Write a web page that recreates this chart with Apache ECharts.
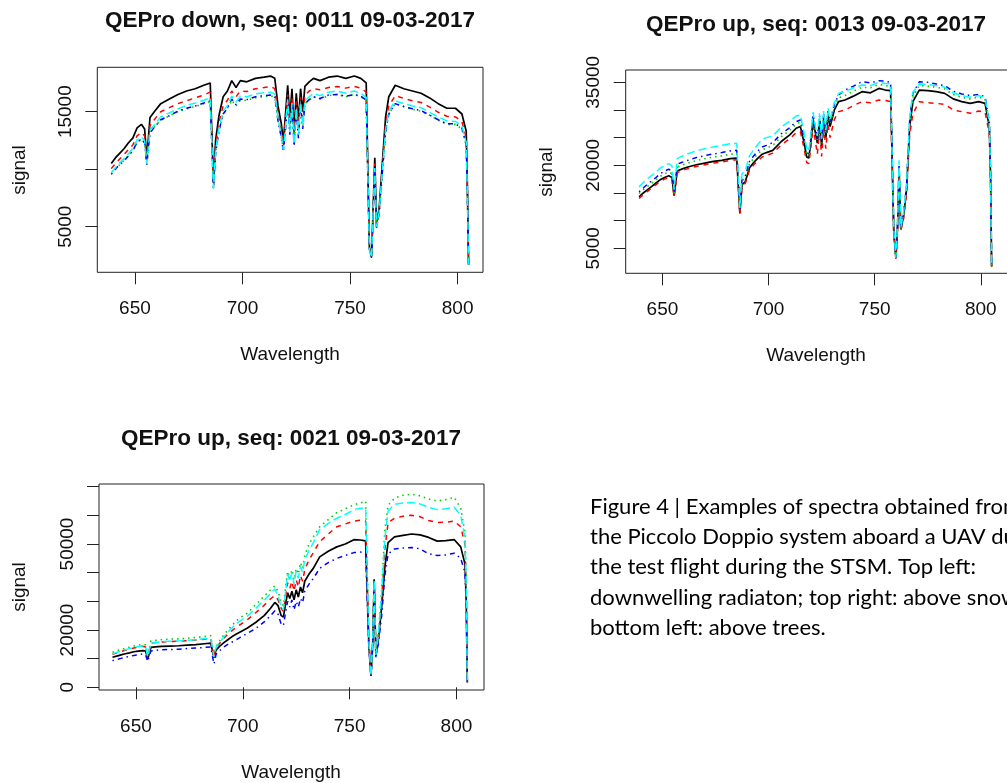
<!DOCTYPE html>
<html>
<head>
<meta charset="utf-8">
<script src="https://cdn.jsdelivr.net/npm/echarts@6/dist/echarts.min.js"></script>
<style>html,body{margin:0;padding:0;background:#fff;}#c{width:1007px;height:783px;}</style>
</head>
<body>
<div id="c"></div>
<script>
// ---- data ----
const wavelength = [639,641,643,645,647,649,651,653,654.5,655.5,657,659,662,666,670,674,678,682,685,686.5,687.5,689,691,693,695,697,699,702,706,710,713,715,716.5,718,719,720,721,722,723,724,725,726,727,728,729,731,733,736,740,744,748,752,755,757.5,759,760,760.8,761.5,762.3,763.5,765,766.5,768,771,775,779,783,787,791,795,799,802,804,804.6,805.1];

// Panel 1: QEPro down, seq 0011
const p1Black = [10500,11000,11400,11800,12300,12700,13600,13900,13500,10900, 14500,15000,15700,16100,16500,16800,17000,17300,17500,8900, 12500,14600,16300,16800,17700,17100,17700,17600,17900,18000, 18100,17900,15500,14000,12400,14800,17300,14500,17000,13300, 16600,14200,17000,15000,17200,17600,17900,17700,18000,18100, 17900,18100,17900,17500,3200,2400,7000,11000,5300,6500, 10500,14500,16300,17300,17000,16800,16600,16200,15700,15300, 15300,14800,13300,8000,1700];
const p1Red = [10050,10500,10900,11300,11700,12100,12900,13200,12900,10700, 13800,14300,15000,15350,15700,15950,16200,16450,16700,8700, 12000,14000,15500,16000,16800,16300,16800,16750,17000,17100, 17200,17000,14900,13500,12000,14200,16500,13900,16200,12800, 15900,13600,16300,14400,16400,16800,17000,16900,17100,17200, 17050,17200,17050,16700,3100,2350,6800,10500,5100,6300, 10100,13900,15500,16400,16150,15950,15800,15400,14950,14600, 14550,14150,12700,7700,1700];
const p1Green = [9600,10000,10400,10800,11200,11600,12300,12650,12300,10500, 13200,13700,14250,14650,15000,15250,15450,15700,15900,8400, 11500,13300,14800,15300,16000,15500,16000,16000,16200,16300, 16400,16250,14300,12900,11600,13600,15800,13300,15500,12200, 15200,13000,15500,13800,15700,16000,16300,16100,16400,16500, 16300,16500,16300,16000,3000,2300,6600,10000,4900,6100, 9700,13300,14800,15700,15450,15200,15050,14700,14250,13900, 13900,13500,12100,7400,1700];
const p1Blue = [9550,10050,10400,10750,11150,11600,12350,12600,12300,10400, 13150,13650,14300,14650,15050,15300,15500,15750,15950,8300, 11400,13300,14800,15300,16100,15600,16100,16050,16300,16400, 16450,16300,14200,12800,11500,13500,15800,13000,15500,12000, 15100,12700,15500,13500,15700,16050,16300,16150,16450,16500, 16350,16500,16350,16000,3000,2300,6600,9900,4900,6100, 9700,13200,14800,15700,15450,15250,15100,14700,14300,13950, 13950,13550,12150,7400,1700];
const p1Cyan = [9700,10150,10550,10950,11350,11800,12550,12800,12500,10500, 13400,13850,14550,14900,15250,15550,15750,16000,16200,8300, 11600,13500,15050,15550,16350,15850,16350,16300,16550,16650, 16700,16550,14400,13000,11700,13700,16050,13300,15750,12200, 15350,13000,15800,13800,15950,16300,16600,16400,16700,16800, 16600,16800,16600,16250,3000,2300,6700,10100,5000,6200, 9800,13400,15050,15950,15700,15500,15350,14950,14550,14200, 14150,13750,12300,7500,1700];

// Panel 2: QEPro up, seq 0013
const p2Black = [14300,15000,15600,16200,16800,17400,17800,18100,17800,14500, 19000,19300,19700,20100,20400,20700,20900,21200,21300,11300, 16500,17000,19500,20500,21300,22000,22300,22700,24300,25500, 26700,27000,24500,21500,21300,24500,28300,26000,24000,28000, 23500,28500,25000,29000,27000,30000,31500,31800,32500,33300, 33100,33900,33600,33500,8000,3200,9000,19200,8500,10500, 15500,27000,31500,33600,33500,33300,33000,32000,31500,31200, 31500,31200,27000,18000,1700];
const p2Red = [14000,14700,15300,15900,16500,17100,17500,17800,17500,14300, 18700,19000,19400,19800,20100,20400,20600,20900,21000,11100, 16200,16700,19100,20100,20800,21500,21800,22200,23700,24800, 25900,26100,23500,20500,20300,23500,27000,24500,22000,26500, 21600,27000,23000,27500,25000,28300,29700,30000,30800,31500, 31300,31800,31700,31500,7700,3100,8600,18000,8200,10000, 14800,25500,29300,31500,31300,31200,31000,30000,29700,29400, 29800,29600,25800,17200,1700];
const p2Green = [14900,15600,16200,16800,17400,18000,18450,18800,18500,14900, 19700,20000,20400,20850,21200,21500,21700,22000,22100,11800, 17200,17600,20200,21300,22100,22800,23100,23600,25200,26300, 27500,27800,25200,22000,21800,25000,28800,26500,24500,28600, 24000,29000,25500,29500,27500,30600,32200,32600,33400,34100, 34000,34600,34400,34300,8100,3200,9200,19800,8600,10800, 15900,27800,32300,34400,34300,34100,33800,32800,32300,32000, 32300,32000,27600,18400,1700];
const p2Blue = [15200,15900,16600,17200,17800,18500,18950,19300,18900,15100, 20200,20500,20900,21400,21750,22050,22300,22600,22700,12000, 17500,18000,20700,21700,22600,23300,23600,24100,25700,26800, 27900,28200,25500,22300,22100,25300,29100,26800,24800,28900, 24300,29300,25800,29800,27800,31000,32700,33600,34300,35100, 34900,35300,35200,35000,8200,3200,9300,20200,8700,11000, 16200,28200,33000,35100,35000,34700,34400,33400,32900,32600, 32800,32400,28000,18600,1700];
const p2Cyan = [16100,16900,17600,18200,18800,19500,20000,20300,19900,15600, 21200,21600,22100,22600,23000,23300,23600,23900,24000,12300, 18500,19000,21700,22800,23800,24700,25000,25300,26900,28000, 28900,29100,26300,23000,22500,25800,29600,27200,25300,29400, 24800,29800,26300,30300,28300,31300,33000,33300,34000,34500, 34400,35000,34800,34700,8300,3300,9500,20900,8800,11200, 16400,28600,33200,34700,34600,34400,34100,33100,32600,32300, 32600,32200,27800,18500,1700];

// Panel 3: QEPro up, seq 0021
const p3Black = [10500,10900,11300,11700,12000,12400,12600,12800,12700,9900, 13900,14100,14300,14400,14500,14700,14900,15200,15400,10400, 13000,14200,15500,16600,17700,18600,19400,20600,22600,25000, 27600,29600,28500,25000,24500,29000,33000,31000,33500,30500, 34000,31500,35000,33000,37000,39500,41500,45500,47500,49000, 50000,51500,51400,51100,15000,4000,15000,37700,11000,17000, 28000,42000,50500,52500,53000,53500,53200,52300,51000,51200, 51500,49000,43000,30000,1700];
const p3Red = [11500,12000,12500,12900,13300,13700,14000,14300,14100,10500, 15400,15600,15800,16000,16100,16300,16500,16800,17000,10500, 13800,15200,17000,18500,19800,21000,22000,23500,26000,28600, 30900,32000,30500,27500,26500,31500,36500,34500,37000,33500, 37500,35000,39000,37000,41000,44500,47000,50800,53500,56000, 57000,58000,58300,58000,16000,4000,15500,37000,11200,18000, 31000,48000,57500,59000,59700,60000,59500,58200,57500,57600, 58000,56000,50000,33000,1800];
const p3Green = [12200,12700,13200,13600,14000,14400,14700,15000,14800,10800, 16200,16400,16600,16800,16900,17100,17400,17700,18000,10700, 14300,16000,18200,20000,21600,23200,24400,25800,28800,31800, 34000,35400,33500,29500,28500,34500,40500,38000,41000,37500, 41500,39500,43500,41500,46000,50000,52500,56000,58500,61000, 62300,63700,64300,65000,17000,4100,16000,36500,11500,19000, 34000,55000,63500,66000,67000,67400,66800,65700,65000,65500, 66300,62500,54000,36000,1800];
const p3Blue = [9300,9700,10100,10500,10800,11100,11300,11600,11400,9000, 12700,12900,13100,13200,13300,13500,13700,13900,14100,8100, 11500,12700,14000,15000,15800,16600,17500,18800,20500,22800, 25000,26700,25500,22000,21500,26000,30000,28000,30500,27000, 30000,28000,31000,29500,33500,36000,38000,41500,43500,45000, 46000,47000,47200,47000,14000,3900,14500,37000,10500,15500, 25000,39000,46500,48300,48600,48800,48300,46600,46000,46200, 46800,45000,40000,28000,1600];
const p3Cyan = [11700,12200,12700,13100,13500,13900,14200,14500,14300,10600, 15400,15600,15900,16100,16200,16400,16600,16900,17100,10600, 14000,15500,17500,19200,20800,22200,23300,24700,27500,30400, 32700,34300,32000,28000,27000,33000,39500,37000,40000,36000, 40500,38000,42000,40000,44500,47700,50500,55000,57200,59000, 60300,62000,62500,62500,16500,4000,15800,37500,11300,18500, 33000,52000,61500,63800,64300,64500,64000,62800,62000,62300, 62800,60000,52000,35000,1800];

// tick values / labels
const xTicks = [650, 700, 750, 800];
const p1YTicks = [5000, 10000, 15000];
const p1YLabels = [5000, 15000];
const p2YTicks = [5000, 10000, 15000, 20000, 25000, 30000, 35000];
const p2YLabels = [5000, 20000, 35000];
const p3YTicks = [0, 10000, 20000, 30000, 40000, 50000, 60000, 70000];
const p3YLabels = [0, 20000, 50000];

const titles = ['QEPro down, seq: 0011 09-03-2017', 'QEPro up, seq: 0013 09-03-2017', 'QEPro up, seq: 0021 09-03-2017'];
const xName = 'Wavelength';
const yName = 'signal';
const captionLines = [
  'Figure 4 | Examples of spectra obtained from',
  'the Piccolo Doppio system aboard a UAV during',
  'the test flight during the STSM. Top left:',
  'downwelling radiaton; top right: above snow;',
  'bottom left: above trees.'
];

// ---- chart ----
const FONT = 'Liberation Sans, Arial, sans-serif';
const panels = [
  { grid: {left: 97.3, top: 67.3, width: 385.7, height: 205}, x: [632.5, 811.8], y: [1035, 18861], yTicks: p1YTicks, yLabels: p1YLabels,
    series: [p1Black, p1Red, p1Green, p1Blue, p1Cyan] },
  { grid: {left: 625.7, top: 70, width: 386.3, height: 203.3}, x: [632.7, 814.7], y: [482, 37223], yTicks: p2YTicks, yLabels: p2YLabels,
    series: [p2Black, p2Red, p2Green, p2Blue, p2Cyan] },
  { grid: {left: 99, top: 484, width: 385, height: 206}, x: [632.7, 812.9], y: [-942, 70942], yTicks: p3YTicks, yLabels: p3YLabels,
    series: [p3Black, p3Red, p3Green, p3Blue, p3Cyan] }
];
const styles = [
  {color: '#000000', type: 'solid', width: 1.7},
  {color: '#FF0000', type: [5, 5], width: 1.5},
  {color: '#00CD00', type: [1.5, 4], width: 1.6},
  {color: '#0000FF', type: [1.5, 4, 5, 4], width: 1.5},
  {color: '#00FFFF', type: [8, 4], width: 1.5}
];

const option = {
  animation: false,
  backgroundColor: '#ffffff',
  grid: [], xAxis: [], yAxis: [], series: [], graphic: []
};
panels.forEach((p, gi) => {
  option.grid.push(Object.assign({show: true, borderColor: '#222', borderWidth: 1, backgroundColor: 'transparent', containLabel: false, outerBoundsMode: 'none'}, p.grid));
  option.xAxis.push({
    type: 'value', gridIndex: gi, min: p.x[0], max: p.x[1],
    axisLine: {show: false}, splitLine: {show: false},
    axisTick: {show: true, length: 12, lineStyle: {color: '#222', width: 1}, customValues: xTicks},
    axisLabel: {customValues: xTicks, margin: 27, fontSize: 19, fontFamily: FONT, color: '#111', formatter: v => String(v)}
  });
  option.yAxis.push({
    type: 'value', gridIndex: gi, min: p.y[0], max: p.y[1],
    axisLine: {show: false}, splitLine: {show: false},
    axisTick: {show: true, length: 12, lineStyle: {color: '#222', width: 1}, customValues: p.yTicks},
    axisLabel: {customValues: p.yLabels, rotate: 90, margin: 22, fontSize: 19, fontFamily: FONT, color: '#111', formatter: v => String(v)}
  });
  p.series.forEach((vals, si) => {
    option.series.push({
      type: 'line', xAxisIndex: gi, yAxisIndex: gi, showSymbol: false, symbol: 'none', clip: true,
      data: wavelength.map((w, i) => [w, vals[i]]),
      lineStyle: {color: styles[si].color, width: styles[si].width, type: styles[si].type},
      z: 2 + si
    });
  });
});

const txt = (x, y, text, extra) => ({type: 'text', x: x, y: y, style: Object.assign({text: text, fill: '#111', font: '19px ' + FONT, align: 'center', verticalAlign: 'middle'}, extra || {})});
option.graphic.push(txt(290, 21, titles[0], {font: 'bold 22.5px ' + FONT}));
option.graphic.push(txt(816, 25, titles[1], {font: 'bold 22.5px ' + FONT}));
option.graphic.push(txt(291, 439, titles[2], {font: 'bold 22.5px ' + FONT}));
option.graphic.push(txt(290, 355, xName));
option.graphic.push(txt(816, 356, xName));
option.graphic.push(txt(291, 773, xName));
option.graphic.push(Object.assign(txt(0, 0, yName), {x: 20, y: 170, rotation: Math.PI / 2}));
option.graphic.push(Object.assign(txt(0, 0, yName), {x: 547, y: 172, rotation: Math.PI / 2}));
option.graphic.push(Object.assign(txt(0, 0, yName), {x: 20, y: 587, rotation: Math.PI / 2}));
const capY = [507, 537, 567, 598, 628];
captionLines.forEach((line, i) => {
  option.graphic.push(txt(590, capY[i], line, {align: 'left', font: '22px Lato, Open Sans, sans-serif', fill: '#000'}));
});

const chart = echarts.init(document.getElementById('c'), null, {renderer: 'canvas', width: 1007, height: 783});
chart.setOption(option);
</script>
</body>
</html>
